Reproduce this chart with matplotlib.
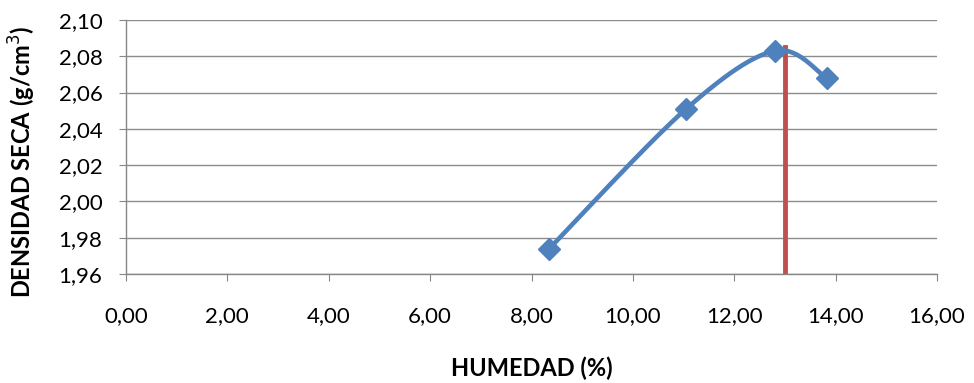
import numpy as np
import matplotlib
matplotlib.use("Agg")
import matplotlib.pyplot as plt

humedad = [8.35, 11.05, 12.80, 13.82]
densidad = [1.974, 2.051, 2.083, 2.068]
optimo_x = 13.00
optimo_y = 2.085
xticks = [0, 2, 4, 6, 8, 10, 12, 14, 16]
yticks = [1.96, 1.98, 2.00, 2.02, 2.04, 2.06, 2.08, 2.10]

plt.rcParams['font.family'] = ['Lato', 'DejaVu Sans']

def excel_smooth(xs, ys, n=60):
    P = np.column_stack([xs, ys]).astype(float)
    out = [P[0]]
    for i in range(len(P) - 1):
        p0 = P[i - 1] if i > 0 else P[i]
        p1 = P[i]
        p2 = P[i + 1]
        p3 = P[i + 2] if i + 2 < len(P) else P[i + 1]
        c1 = p1 + (p2 - p0) / 6.0
        c2 = p2 - (p3 - p1) / 6.0
        t = np.linspace(0, 1, n)[1:, None]
        seg = ((1 - t) ** 3) * p1 + 3 * ((1 - t) ** 2) * t * c1 + 3 * (1 - t) * t ** 2 * c2 + t ** 3 * p2
        out.extend(seg)
    out = np.array(out)
    return out[:, 0], out[:, 1]

fig = plt.figure(figsize=(9.74, 3.83), dpi=100)
ax = fig.add_axes([126 / 974, 1 - 274 / 383, (937 - 126) / 974, (274 - 20) / 383])

sx, sy = excel_smooth(humedad, densidad)
ax.plot(sx, sy, color='#4F81BD', lw=3.3, zorder=3, solid_capstyle='round')
ax.plot(humedad, densidad, ls='none', marker='D', ms=11, color='#4F81BD', zorder=4)
ax.plot([optimo_x, optimo_x], [1.96, optimo_y], color='#C0504D', lw=3.5, zorder=2)

ax.set_xlim(0, 16)
ax.set_ylim(1.96, 2.10)
ax.set_xticks(xticks)
ax.set_yticks(yticks)
ax.set_xticklabels([f"{v:.2f}".replace('.', ',') for v in xticks])
ax.set_yticklabels([f"{v:.2f}".replace('.', ',') for v in yticks])
ax.yaxis.grid(True, color='#8C8C8C', lw=1)
ax.set_axisbelow(True)
for s in ['top', 'right']:
    ax.spines[s].set_visible(False)
for s in ['left', 'bottom']:
    ax.spines[s].set_color('#868686')
    ax.spines[s].set_linewidth(1)
ax.tick_params(axis='both', which='major', direction='out', length=5, color='#868686', labelsize=16, labelcolor='black')
ax.tick_params(axis='x', pad=18)
ax.tick_params(axis='y', pad=12)

ax.set_xlabel('HUMEDAD (%)', fontsize=17, fontweight='bold', labelpad=22)
ax.set_ylabel('DENSIDAD SECA (g/cm$^3$)', fontsize=17, fontweight='bold')
ax.yaxis.set_label_coords(-0.1085, 0.441)

fig.savefig('out.png', dpi=100)
